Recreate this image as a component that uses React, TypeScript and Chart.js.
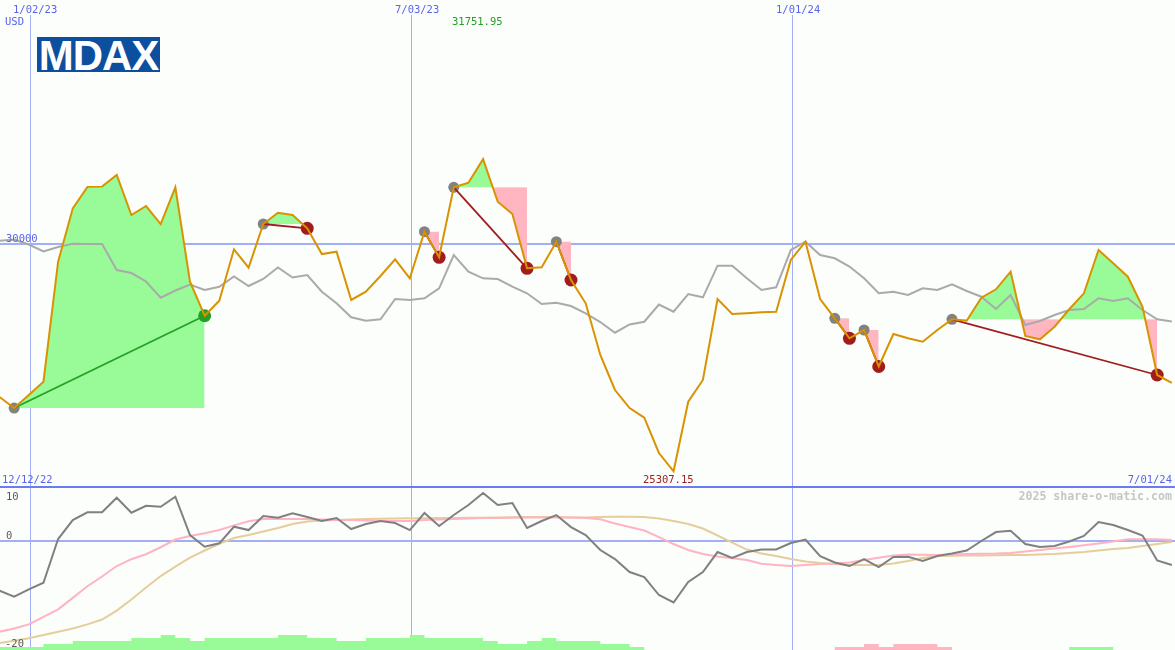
import React, { useEffect, useRef } from 'react';
import { Chart, registerables } from 'chart.js';

Chart.register(...registerables);

// ---------------- data ----------------
// weekly closes, week index 0 = 12/19/22
const closes = [
  26841, 26613, 26882, 27156, 29635, 30737, 31180, 31185, 31425, 30599,
  30785, 30413, 31171, 29221, 28519, 28829, 29891, 29511, 30413, 30646,
  30599, 30324, 29793, 29841, 28844, 29015, 29339, 29684, 29292, 30254,
  29725, 31171, 31266, 31751.95, 30873, 30620, 29498, 29519, 30047, 29257,
  28775, 27708, 26985, 26613, 26413, 25684, 25307.15, 26743, 27192, 28864,
  28554, 28569, 28590, 28600, 29670, 30047, 28864, 28466, 28053, 28224,
  27470, 28141, 28053, 27982, 28224, 28445, 28416, 28891, 29065, 29428,
  28100, 28032, 28292, 28652, 28982, 29876, 29601, 29325, 28705, 27295,
  27130,
];

const average = [
  30068, 30093, 29990, 29845, 29938, 30005, 30000, 29998, 29463, 29401,
  29226, 28891, 29040, 29164, 29050, 29118, 29329, 29133, 29277, 29515,
  29308, 29360, 29015, 28775, 28486, 28416, 28445, 28864, 28844, 28879,
  29085, 29773, 29428, 29292, 29277, 29118, 28982, 28761, 28788, 28720,
  28569, 28389, 28168, 28338, 28395, 28751, 28602, 28967, 28899, 29552,
  29552, 29292, 29050, 29106, 29876, 30047, 29773, 29705, 29535, 29292,
  28982, 29015, 28947, 29085, 29050, 29168, 29029, 28912, 28658, 28947,
  28327, 28410, 28534, 28637, 28658, 28879, 28823, 28879, 28637, 28445,
  28400,
];

const momentum = [
  -9.09, -10.2, -8.83, -7.62, 0.42, 3.92, 5.34, 5.34, 8.02, 5.26,
  6.55, 6.37, 8.21, 1.16, -0.99, -0.37, 2.69, 2.08, 4.66, 4.34,
  5.15, 4.47, 3.74, 4.29, 2.26, 3.18, 3.74, 3.37, 2.08, 5.21,
  2.82, 4.84, 6.68, 8.89, 6.68, 7.05, 2.45, 3.74, 4.84, 2.63,
  1.16, -1.6, -3.26, -5.65, -6.57, -9.88, -11.26, -7.49, -5.65, -1.97,
  -3.07, -1.97, -1.51, -1.51, -0.31, 0.33, -2.71, -3.9, -4.55, -3.26,
  -4.73, -2.89, -2.83, -3.63, -2.71, -2.25, -1.69, 0.06, 1.71, 1.95,
  -0.5, -1.05, -0.87, -0.04, 0.98, 3.55, 3.0, 2.08, 1.07, -3.53,
  -4.36,
];

const signalFast = [
  -16.64, -16.05, -15.28, -13.9, -12.52, -10.4, -8.26, -6.48, -4.55, -3.29,
  -2.37, -1.09, 0.33, 0.98, 1.47, 2.08, 2.94, 3.68, 4.1, 4.1,
  4.1, 4.1, 4.0, 3.92, 3.92, 3.83, 3.74, 3.74, 3.74, 3.92,
  4.0, 4.1, 4.2, 4.29, 4.29, 4.34, 4.38, 4.38, 4.38, 4.38,
  4.29, 4.05, 3.28, 2.63, 1.99, 0.79, -0.5, -1.6, -2.34, -2.8,
  -3.11, -3.44, -4.12, -4.36, -4.55, -4.36, -4.18, -4.09, -3.9, -3.44,
  -3.04, -2.61, -2.43, -2.47, -2.52, -2.43, -2.34, -2.28, -2.25, -2.15,
  -1.88, -1.6, -1.33, -1.05, -0.74, -0.4, -0.04, 0.37, 0.37, 0.37,
  0.24,
];

const signalSlow = [
  -18.72, -18.31, -17.85, -17.25, -16.64, -16.05, -15.28, -14.39, -12.74, -10.71,
  -8.5, -6.39, -4.64, -2.98, -1.69, -0.46, 0.61, 1.16, 1.8, 2.45,
  3.18, 3.64, 3.83, 3.92, 4.0, 4.1, 4.16, 4.2, 4.23, 4.25,
  4.29, 4.29, 4.33, 4.36, 4.38, 4.42, 4.47, 4.47, 4.47, 4.38,
  4.38, 4.47, 4.53, 4.53, 4.47, 4.2, 3.74, 3.18, 2.36, 1.07,
  -0.22, -1.51, -2.25, -2.7, -3.26, -3.72, -3.99, -4.18, -4.36, -4.36,
  -4.36, -4.09, -3.63, -3.07, -2.71, -2.67, -2.63, -2.6, -2.56, -2.52,
  -2.52, -2.43, -2.34, -2.15, -1.97, -1.69, -1.42, -1.23, -0.87, -0.5,
  -0.13,
];

const barsUp = [
  1, 1, 1, 2, 2, 3, 3, 3, 3, 4,
  4, 5, 4, 3, 4, 4, 4, 4, 4, 5,
  5, 4, 4, 3, 3, 4, 4, 4, 5, 4,
  4, 4, 4, 3, 2, 2, 3, 4, 3, 3,
  3, 2, 2, 1, 0, 0, 0, 0, 0, 0,
  0, 0, 0, 0, 0, 0, 0, 0, 0, 0,
  0, 0, 0, 0, 0, 0, 0, 0, 0, 0,
  0, 0, 0, 1, 1, 1, 0, 0, 0, 0,
  0,
];

const barsDown = [
  0, 0, 0, 0, 0, 0, 0, 0, 0, 0,
  0, 0, 0, 0, 0, 0, 0, 0, 0, 0,
  0, 0, 0, 0, 0, 0, 0, 0, 0, 0,
  0, 0, 0, 0, 0, 0, 0, 0, 0, 0,
  0, 0, 0, 0, 0, 0, 0, 0, 0, 0,
  0, 0, 0, 0, 0, 0, 0, 1, 1, 2,
  1, 2, 2, 2, 1, 0, 0, 0, 0, 0,
  0, 0, 0, 0, 0, 0, 0, 0, 0, 0,
  0,
];

const tradeEntries = [1, 18, 29, 31, 38, 57, 59, 65];
const tradeExits = [14, 21, 30, 36, 39, 58, 60, 79];

const gridDates = ['1/02/23', '7/03/23', '1/01/24'];
const gridWeeks = [2.15, 28.15, 54.15];
const startDate = '12/12/22';
const endDate = '7/01/24';
const mainLevel = 30000;
const maxLabel = '31751.95';
const minLabel = '25307.15';
const lowerTicks = ['10', '0', '-20'];

// ---------------- layout / style ----------------
const W = 1175;
const MAIN_H = 487;
const LOWER_TOP = 487;
const LOWER_H = 163;
const X_MIN = 0.0341;
const X_MAX = 80.217;
const MAIN_MIN = 24982;
const MAIN_MAX = 35039;
const LOW_MIN = -20;
const LOW_MAX = 10;
const BARS_MAX = 54;

const BG = '#fbfefb';
const GRID = '#a2aef5';
const ORANGE = '#d99200';
const AVG = '#aaaaaa';
const GREEN_FILL = '#98fb98';
const PINK_FILL = '#ffb6c1';
const WIN = '#24a024';
const LOSS = '#a11d1d';
const ENTRY = '#828282';
const BLUE_TEXT = '#5a64ec';
const MONO = '"DejaVu Sans Mono", "Liberation Mono", monospace';

const pts = (arr: number[]) => arr.map((v, i) => ({ x: i, y: v }));

const gridPlugin = (level: number, vTop: number) => ({
  id: 'gridLines',
  beforeDraw(chart: any) {
    const { ctx, scales } = chart;
    ctx.save();
    ctx.strokeStyle = GRID;
    ctx.lineWidth = 1;
    gridWeeks.forEach((w) => {
      const px = Math.round(scales.x.getPixelForValue(w)) - 0.5;
      ctx.beginPath();
      ctx.moveTo(px, vTop);
      ctx.lineTo(px, chart.height);
      ctx.stroke();
    });
    ctx.lineWidth = 2;
    const py = Math.round(scales.y.getPixelForValue(level));
    ctx.beginPath();
    ctx.moveTo(0, py);
    ctx.lineTo(chart.width, py);
    ctx.stroke();
    ctx.restore();
  },
});

const baseOptions = {
  responsive: false,
  animation: false as const,
  devicePixelRatio: 1,
  events: [] as any[],
  layout: { padding: 0, autoPadding: false },
  plugins: {
    legend: { display: false },
    tooltip: { enabled: false },
    filler: { propagate: false, drawTime: 'beforeDatasetsDraw' as const },
  },
  elements: { line: { tension: 0 }, point: { radius: 0 } },
};

function Label(props: { text: string; x: number; y: number; align?: 'left' | 'right'; color: string; size?: number; bold?: boolean }) {
  const { text, x, y, align = 'left', color, size = 10.5, bold } = props;
  const style: React.CSSProperties = {
    position: 'absolute',
    top: y - 6,
    lineHeight: '12px',
    fontFamily: MONO,
    fontSize: size,
    fontWeight: bold ? 'bold' : 'normal',
    color,
    whiteSpace: 'nowrap',
    zIndex: 3,
  };
  if (align === 'left') style.left = x;
  else style.right = W - x;
  return <div style={style}>{text}</div>;
}

export default function App() {
  const mainRef = useRef<HTMLCanvasElement>(null);
  const lowRef = useRef<HTMLCanvasElement>(null);

  useEffect(() => {
    const fills = tradeEntries.map((e, k) => ({
      data: closes.slice(e, tradeExits[k] + 1).map((v, j) => ({ x: e + j, y: v })),
      borderWidth: 0,
      borderColor: 'transparent',
      pointRadius: 0,
      order: 6,
      fill: { target: { value: closes[e] }, above: GREEN_FILL, below: PINK_FILL },
    }));
    const connectors = tradeEntries.map((e, k) => {
      const x2 = tradeExits[k];
      const win = closes[x2] > closes[e];
      return {
        data: [{ x: e, y: closes[e] }, { x: x2, y: closes[x2] }],
        borderColor: win ? WIN : LOSS,
        borderWidth: 1.8,
        pointRadius: 0,
        fill: false,
        order: 1,
      };
    });
    const exitColors = tradeEntries.map((e, k) => (closes[tradeExits[k]] > closes[e] ? WIN : LOSS));

    const main = new Chart(mainRef.current!, {
      type: 'line',
      data: {
        datasets: [
          { data: pts(closes), borderColor: ORANGE, borderWidth: 2, pointRadius: 0, fill: false, order: 0 },
          ...connectors,
          {
            data: tradeExits.map((i) => ({ x: i, y: closes[i] })),
            showLine: false,
            pointRadius: 6.5,
            pointBackgroundColor: exitColors,
            pointBorderWidth: 0,
            order: 2,
          },
          {
            data: tradeEntries.map((i) => ({ x: i, y: closes[i] })),
            showLine: false,
            pointRadius: 5.5,
            pointBackgroundColor: ENTRY,
            pointBorderWidth: 0,
            order: 3,
          },
          { data: pts(average), borderColor: AVG, borderWidth: 2, pointRadius: 0, fill: false, order: 4 },
          ...fills,
        ] as any,
      },
      options: {
        ...baseOptions,
        scales: {
          x: { type: 'linear', display: false, min: X_MIN, max: X_MAX },
          y: { type: 'linear', display: false, min: MAIN_MIN, max: MAIN_MAX },
        },
      } as any,
      plugins: [gridPlugin(mainLevel, 15)],
    });

    const low = new Chart(lowRef.current!, {
      type: 'line',
      data: {
        datasets: [
          { data: pts(momentum), borderColor: '#808080', borderWidth: 2, pointRadius: 0, fill: false, order: 0 },
          { data: pts(signalFast), borderColor: '#ffb3c3', borderWidth: 2, pointRadius: 0, fill: false, order: 1 },
          { data: pts(signalSlow), borderColor: '#e6cd9c', borderWidth: 2, pointRadius: 0, fill: false, order: 2 },
          {
            data: pts(barsUp), yAxisID: 'yb', stepped: true, borderWidth: 0, borderColor: 'transparent',
            pointRadius: 0, fill: 'origin', backgroundColor: GREEN_FILL, order: 3,
          },
          {
            data: pts(barsDown), yAxisID: 'yb', stepped: true, borderWidth: 0, borderColor: 'transparent',
            pointRadius: 0, fill: 'origin', backgroundColor: PINK_FILL, order: 4,
          },
        ] as any,
      },
      options: {
        ...baseOptions,
        scales: {
          x: { type: 'linear', display: false, min: X_MIN, max: X_MAX },
          y: { type: 'linear', display: false, min: LOW_MIN, max: LOW_MAX },
          yb: { type: 'linear', display: false, min: 0, max: BARS_MAX },
        },
      } as any,
      plugins: [gridPlugin(0, 0)],
    });

    return () => {
      main.destroy();
      low.destroy();
    };
  }, []);

  const dateLeft = [13, 395, 776];

  return (
    <div style={{ position: 'fixed', left: 0, top: 0, width: W, height: 650, background: BG, overflow: 'hidden' }}>
      <canvas ref={mainRef} width={W} height={MAIN_H} style={{ position: 'absolute', left: 0, top: 0, width: W, height: MAIN_H }} />
      <canvas ref={lowRef} width={W} height={LOWER_H} style={{ position: 'absolute', left: 0, top: LOWER_TOP, width: W, height: LOWER_H }} />
      <div style={{ position: 'absolute', left: 0, top: 486, width: W, height: 2, background: '#6a7cf0', zIndex: 2 }} />
      <div
        style={{
          position: 'absolute', left: 37, top: 37, width: 123, height: 35, background: '#0c4f9e', color: '#ffffff',
          fontFamily: '"Liberation Sans", Arial, sans-serif', fontWeight: 'bold', fontSize: 42, lineHeight: '37px',
          letterSpacing: '-1px', textAlign: 'center', overflow: 'hidden', zIndex: 3,
        }}
      >
        MDAX
      </div>
      {gridDates.map((d, k) => (
        <Label key={d} text={d} x={dateLeft[k]} y={8.5} color={BLUE_TEXT} />
      ))}
      <Label text="USD" x={5} y={21} color={BLUE_TEXT} />
      <Label text={maxLabel} x={452} y={20.5} color="#22a022" />
      <Label text={String(mainLevel)} x={6} y={238} color={BLUE_TEXT} />
      <Label text={startDate} x={2} y={478.5} color={BLUE_TEXT} />
      <Label text={endDate} x={1172} y={478.5} align="right" color={BLUE_TEXT} />
      <Label text={minLabel} x={643} y={478.5} color="#a02020" />
      <Label text="2025 share-o-matic.com" x={1172} y={496} align="right" color="#c6c6c6" size={11.6} bold />
      <Label text={lowerTicks[0]} x={6} y={496} color="#5a5a5a" />
      <Label text={lowerTicks[1]} x={6} y={535} color="#5a5a5a" />
      <Label text={lowerTicks[2]} x={5} y={643} color="#5a5a5a" />
    </div>
  );
}
